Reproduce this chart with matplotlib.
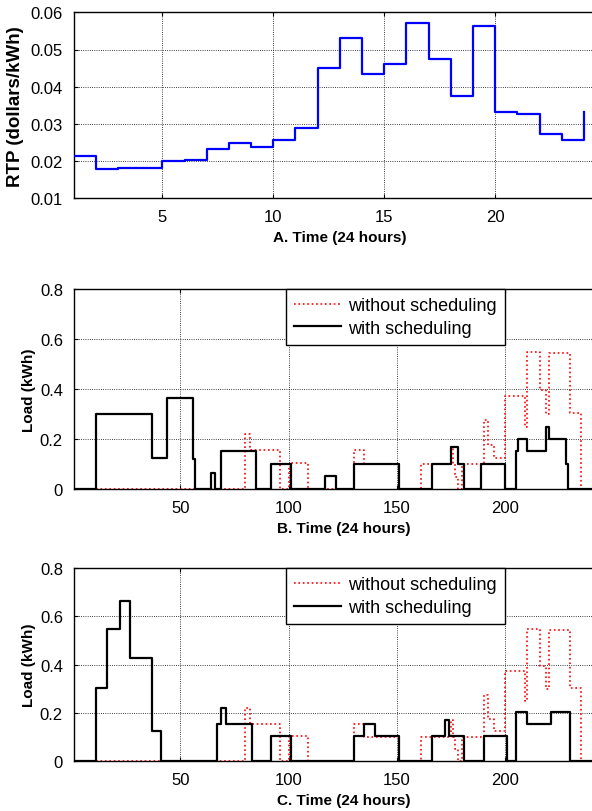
"""RTP price and household load with / without scheduling (three stacked panels)."""

import matplotlib

matplotlib.use("Agg")
import matplotlib.pyplot as plt

plt.rcParams["font.family"] = ["Liberation Sans", "DejaVu Sans"]

# --- panel A: real-time price, one value per hour (stairs)
hours = list(range(1, 25))
rtp = [0.0213, 0.0178, 0.0182, 0.0182, 0.0199, 0.0203, 0.0232, 0.0248,
       0.0239, 0.0258, 0.0290, 0.0450, 0.0531, 0.0435, 0.0460, 0.0570,
       0.0474, 0.0374, 0.0563, 0.0331, 0.0326, 0.0274, 0.0258, 0.0331]

# --- panels B/C: load over 240 slots, given as change points (slot, level)
red_t = [1, 80, 82, 96, 100, 109, 130, 135, 151, 161, 175, 176, 177, 178,
         180, 190, 192, 195, 200, 209, 210, 216, 219, 220, 230, 235, 240]
red_v = [0, 0.22, 0.155, 0, 0.104, 0, 0.155, 0.10, 0, 0.10, 0.17, 0.10, 0.05, 0,
         0.10, 0.275, 0.175, 0.125, 0.373, 0.25, 0.547, 0.396, 0.30, 0.545, 0.305, 0, 0]

b_t = [1, 11, 37, 44, 56, 57, 64, 66, 69, 85, 92, 101, 117, 122, 130, 151,
       166, 175, 178, 181, 189, 200, 205, 206, 210, 219, 220, 228, 229, 240]
b_v = [0, 0.30, 0.124, 0.364, 0.12, 0, 0.065, 0, 0.153, 0, 0.10, 0, 0.052, 0,
       0.10, 0, 0.10, 0.17, 0.10, 0, 0.10, 0, 0.153, 0.20, 0.153, 0.25, 0.20, 0.10, 0, 0]

c_t = [1, 11, 16, 22, 27, 37, 41, 67, 69, 71, 83, 92, 101, 130, 135, 140,
       151, 166, 172, 174, 181, 190, 201, 205, 210, 221, 230, 240]
c_v = [0, 0.304, 0.546, 0.664, 0.426, 0.124, 0, 0.155, 0.22, 0.155, 0, 0.105,
       0, 0.105, 0.154, 0.105, 0, 0.105, 0.171, 0.105, 0, 0.105, 0, 0.203,
       0.154, 0.203, 0, 0]

load_ticks = [50, 100, 150, 200]
load_yticks = [0, 0.2, 0.4, 0.6, 0.8]
rtp_xticks = [5, 10, 15, 20]
rtp_yticks = [0.01, 0.02, 0.03, 0.04, 0.05, 0.06]

W, H = 592, 812
TICK_FS = 12
LABEL_FS = 11


def px_axes(fig, left, top, right, bottom):
    """Add axes from pixel box (y measured from the top)."""
    return fig.add_axes([left / W, 1 - bottom / H, (right - left) / W, (bottom - top) / H])


def style(ax):
    ax.grid(True, color="k", linestyle=":", linewidth=0.6)
    ax.set_axisbelow(True)
    ax.tick_params(direction="in", top=True, right=True, length=3, width=0.8,
                   labelsize=TICK_FS)
    ax.tick_params(axis="x", pad=8)
    ax.tick_params(axis="y", pad=8)
    for s in ax.spines.values():
        s.set_linewidth(1.0)


def load_panel(ax, t, v, label):
    ax.step(red_t, red_v, where="post", color="#FF0000", linestyle=":", lw=1.2,
            label="without scheduling", zorder=2)
    ax.step(t, v, where="post", color="k", lw=1.6, label="with scheduling", zorder=3)
    ax.set_xlim(1, 250)
    ax.set_ylim(0, 0.8)
    ax.set_xticks(load_ticks)
    ax.set_yticks(load_yticks)
    ax.set_yticklabels(["0", "0.2", "0.4", "0.6", "0.8"])
    ax.set_xlabel(label, fontweight="bold", fontsize=LABEL_FS, labelpad=4)
    ax.set_ylabel("Load (kWh)", fontweight="bold", fontsize=LABEL_FS, labelpad=3)
    style(ax)
    leg = ax.legend(loc="upper left", bbox_to_anchor=(0.393, 1.0), borderaxespad=0,
                    fancybox=False, framealpha=1, edgecolor="k", fontsize=13,
                    handlelength=2.6, handletextpad=0.4, borderpad=0.45,
                    labelspacing=0.3)
    leg.get_frame().set_linewidth(1.0)


def main() -> None:
    fig = plt.figure(figsize=(W / 100, H / 100), dpi=100)

    ax1 = px_axes(fig, 73.5, 13.3, 606.3, 199.3)
    ax1.step(hours, rtp, where="post", color="#0000FF", lw=1.6, zorder=3)
    ax1.set_xlim(1, 25)
    ax1.set_ylim(0.01, 0.06)
    ax1.set_xticks(rtp_xticks)
    ax1.set_yticks(rtp_yticks)
    ax1.set_yticklabels([f"{y:.2f}" for y in rtp_yticks])
    ax1.set_xlabel("A. Time (24 hours)", fontweight="bold", fontsize=LABEL_FS, labelpad=4)
    ax1.set_ylabel("RTP (dollars/kWh)", fontweight="bold", fontsize=13.5, labelpad=4)
    style(ax1)

    ax2 = px_axes(fig, 74, 290, 613.6, 490)
    load_panel(ax2, b_t, b_v, "B. Time (24 hours)")

    ax3 = px_axes(fig, 74, 569.3, 613.6, 762)
    load_panel(ax3, c_t, c_v, "C. Time (24 hours)")

    fig.savefig("out.png", dpi=100, facecolor="white")
    plt.close(fig)


if __name__ == "__main__":
    main()
